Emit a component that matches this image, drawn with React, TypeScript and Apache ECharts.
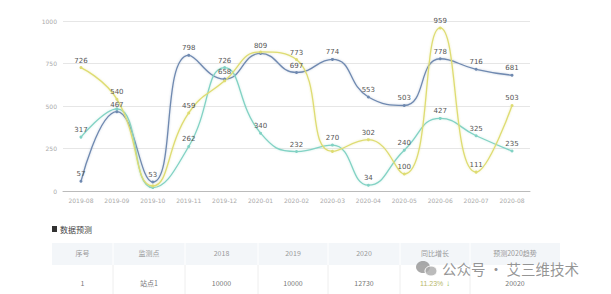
import React, { useEffect, useRef } from "react";
import * as echarts from "echarts";

const months = ["2019-08","2019-09","2019-10","2019-11","2019-12","2020-01","2020-02","2020-03","2020-04","2020-05","2020-06","2020-07","2020-08"];
const seriesBlue = [57, 467, 53, 798, 658, 809, 697, 774, 553, 503, 778, 716, 681];
const seriesTeal = [317, 483, 20, 262, 726, 340, 232, 270, 34, 240, 427, 325, 235];
const seriesYellow = [726, 540, 30, 459, 648, 818, 773, 233, 302, 100, 959, 111, 503];
const yTicks = [0, 250, 500, 750, 1000];

const tableHeader = ["序号", "监测点", "2018", "2019", "2020", "同比增长", "预测2020趋势"];
const tableRow = ["1", "站点1", "10000", "10000", "12730", "11.23%", "20020"];

const colBounds = [52, 113, 185, 258, 328, 400, 470, 560];

export default function App() {
  const ref = useRef<HTMLDivElement>(null);
  useEffect(() => {
    if (!ref.current) return;
    const chart = echarts.init(ref.current, null, { renderer: "svg" });
    const mk = (name: string, data: number[], color: string, shadow: string) => ({
      name,
      type: "line",
      data,
      smooth: 0.5,
      symbol: "circle",
      symbolSize: 3,
      itemStyle: { color },
      lineStyle: { color, width: 1.3, shadowColor: shadow, shadowBlur: 2 },
      label: { show: true, position: "top", distance: 2, fontSize: 7, color: "#555", fontFamily: "DejaVu Sans" },
      labelLayout: { hideOverlap: true },
    });
    const graphics: any[] = [];
    graphics.push({ type: "rect", shape: { x: 52, y: 226, width: 5, height: 6 }, style: { fill: "#333" } });
    graphics.push({ type: "text", x: 60, y: 229, style: { text: "数据预测", fontSize: 8, fill: "#444", verticalAlign: "middle", fontFamily: "Noto Sans CJK SC" } });
    graphics.push({ type: "rect", shape: { x: colBounds[0], y: 243, width: colBounds[colBounds.length - 1] - colBounds[0], height: 22 }, style: { fill: "#f3f6f9" } });
    for (let i = 1; i < colBounds.length - 1; i++) {
      graphics.push({ type: "line", shape: { x1: colBounds[i], y1: 243, x2: colBounds[i], y2: 265 }, style: { stroke: "#ffffff", lineWidth: 1 } });
      graphics.push({ type: "line", shape: { x1: colBounds[i], y1: 265, x2: colBounds[i], y2: 294 }, style: { stroke: "#eeeeee", lineWidth: 1 } });
    }
    tableHeader.forEach((t, i) => {
      const cx = (colBounds[i] + colBounds[i + 1]) / 2;
      graphics.push({ type: "text", x: cx, y: 253, style: { text: t, fontSize: 7, fill: "#999999", align: "center", verticalAlign: "middle", fontFamily: "Noto Sans CJK SC" } });
    });
    tableRow.forEach((t, i) => {
      const cx = (colBounds[i] + colBounds[i + 1]) / 2;
      const isGrowth = i === 5;
      graphics.push({
        type: "text", x: cx, y: 283,
        style: isGrowth
          ? { text: "{a|" + t + "} {b|↓}", rich: { a: { fontSize: 7, fill: "#b8b86a" }, b: { fontSize: 8, fill: "#8fbf4a" } }, align: "center", verticalAlign: "middle", fontFamily: "Noto Sans CJK SC" }
          : { text: t, fontSize: 7, fill: "#777777", align: "center", verticalAlign: "middle", fontFamily: "Noto Sans CJK SC" },
      });
    });
    // watermark
    graphics.push({ type: "ellipse", shape: { cx: 423, cy: 267, rx: 7, ry: 6 }, style: { fill: "rgba(140,140,140,0.75)" } });
    graphics.push({ type: "ellipse", shape: { cx: 431, cy: 271, rx: 6, ry: 5 }, style: { fill: "rgba(170,170,170,0.8)", stroke: "#fff", lineWidth: 1 } });
    graphics.push({ type: "text", x: 442, y: 268, style: { text: "公众号 · 艾三维技术", fontSize: 14.5, fill: "rgba(130,130,130,0.85)", verticalAlign: "middle", fontFamily: "Noto Sans CJK SC" } });

    chart.setOption({
      animation: false,
      backgroundColor: "#fff",
      grid: { left: 63, right: 81, top: 21, height: 170 },
      xAxis: {
        type: "category",
        data: months,
        boundaryGap: true,
        axisLine: { lineStyle: { color: "#bbb" } },
        axisTick: { show: false },
        axisLabel: { interval: 0, fontSize: 6, color: "#aaa", margin: 6, fontFamily: "DejaVu Sans" },
      },
      yAxis: {
        type: "value",
        min: yTicks[0],
        max: yTicks[yTicks.length - 1],
        interval: 250,
        axisLine: { show: false },
        axisTick: { show: false },
        splitLine: { lineStyle: { color: "#e6e6e6" } },
        axisLabel: { fontSize: 6, color: "#aaa", margin: 6, fontFamily: "DejaVu Sans", formatter: (v: number) => String(v) },
      },
      series: [
        mk("A", seriesBlue, "#6f89b0", "rgba(111,137,176,0.4)"),
        mk("B", seriesTeal, "#82d2c4", "rgba(130,210,196,0.4)"),
        mk("C", seriesYellow, "#dedc72", "rgba(222,220,114,0.5)"),
      ],
      graphic: graphics,
    });
    return () => chart.dispose();
  }, []);
  return <div ref={ref} style={{ position: "fixed", left: 0, top: 0, width: 611, height: 294 }} />;
}
